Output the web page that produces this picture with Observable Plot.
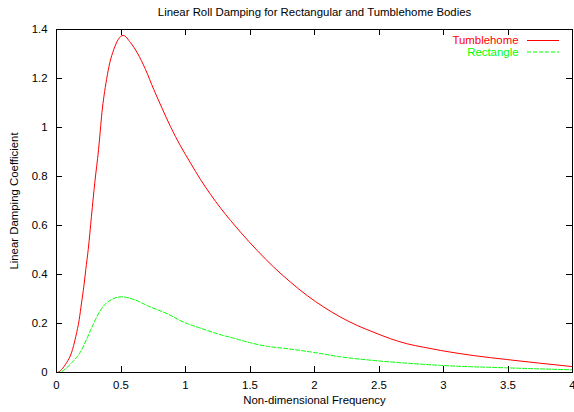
<!DOCTYPE html>
<html><head><meta charset="utf-8">
<script src="https://cdn.jsdelivr.net/npm/d3@7"></script>
<script src="https://cdn.jsdelivr.net/npm/@observablehq/plot@0.6"></script>
<style>html,body{margin:0;padding:0;background:#fff}svg{display:block}</style>
</head><body><div id="chart"></div>
<script>
const tumbleFreq = [0, 0.013, 0.039, 0.078, 0.116, 0.150, 0.176, 0.194, 0.212, 0.227, 0.246, 0.271, 0.297, 0.326, 0.340, 0.352, 0.368, 0.388, 0.413, 0.444, 0.478, 0.517, 0.574, 0.626, 0.690, 0.754, 0.819, 0.884, 0.961, 1.039, 1.116, 1.194, 1.271, 1.350, 1.426, 1.556, 1.684, 1.814, 1.943, 2.072, 2.202, 2.331, 2.460, 2.589, 2.719, 2.847, 2.977, 3.235, 3.490, 4.0];
const tumbleDamping = [0, 0.001, 0.012, 0.040, 0.080, 0.148, 0.216, 0.284, 0.352, 0.420, 0.502, 0.638, 0.776, 0.910, 0.990, 1.060, 1.128, 1.196, 1.264, 1.318, 1.359, 1.376, 1.346, 1.305, 1.237, 1.155, 1.078, 1.003, 0.925, 0.855, 0.788, 0.727, 0.672, 0.620, 0.573, 0.498, 0.430, 0.369, 0.314, 0.267, 0.226, 0.192, 0.164, 0.138, 0.117, 0.103, 0.090, 0.069, 0.053, 0.024];
const rectFreq = [0, 0.026, 0.078, 0.129, 0.181, 0.233, 0.284, 0.336, 0.388, 0.440, 0.504, 0.599, 0.729, 0.858, 0.987, 1.116, 1.246, 1.374, 1.504, 1.633, 1.762, 1.891, 1.995, 2.202, 2.460, 2.719, 2.977, 3.490, 4.0];
const rectDamping = [0, 0.001, 0.019, 0.046, 0.080, 0.135, 0.196, 0.250, 0.284, 0.301, 0.309, 0.298, 0.267, 0.240, 0.205, 0.181, 0.158, 0.140, 0.121, 0.107, 0.099, 0.090, 0.082, 0.064, 0.049, 0.038, 0.029, 0.019, 0.011];
const xTicks = [0, 0.5, 1, 1.5, 2, 2.5, 3, 3.5, 4];
const yTicks = [0, 0.2, 0.4, 0.6, 0.8, 1, 1.2, 1.4];
const seriesNames = ["Tumblehome", "Rectangle"];
const seriesColors = ["#ff0000", "#00ff00"];
const seriesDash = [null, "4,2"];
const titleText = "Linear Roll Damping for Rectangular and Tumblehome Bodies";
const xLabel = "Non-dimensional Frequency";
const yLabel = "Linear Damping Coefficient";

const tumble = tumbleFreq.map((x, i) => ({x, y: tumbleDamping[i]}));
const rect = rectFreq.map((x, i) => ({x, y: rectDamping[i]}));

const W = 574, H = 412, mL = 56, mR = 2, mT = 29, mB = 40;
const tk = 6;
const legendDy = [11, 22.5];

// inward ticks on all four sides (gnuplot style mirror ticks)
function inwardTicks(index, scales, values, dim) {
  const g = d3.create("svg:g").attr("stroke", "#000").attr("stroke-width", 1);
  const top = dim.marginTop, bottom = dim.height - dim.marginBottom;
  const left = dim.marginLeft, right = dim.width - dim.marginRight;
  for (const v of xTicks) {
    const x = Math.round(scales.x(v)) + 0.5;
    g.append("line").attr("x1", x).attr("x2", x).attr("y1", bottom).attr("y2", bottom - tk);
    g.append("line").attr("x1", x).attr("x2", x).attr("y1", top).attr("y2", top + tk);
  }
  for (const v of yTicks) {
    const y = Math.round(scales.y(v)) + 0.5;
    g.append("line").attr("x1", left).attr("x2", left + tk).attr("y1", y).attr("y2", y);
    g.append("line").attr("x1", right).attr("x2", right - tk).attr("y1", y).attr("y2", y);
  }
  return g.node();
}

function legendSamples(index, scales, values, dim) {
  const g = d3.create("svg:g");
  const right = dim.width - dim.marginRight;
  seriesNames.forEach((n, i) => {
    const y = dim.marginTop + legendDy[i] + 0.5;
    g.append("line")
      .attr("x1", right - 45).attr("x2", right - 13)
      .attr("y1", y).attr("y2", y)
      .attr("stroke", seriesColors[i])
      .attr("stroke-width", 1)
      .attr("stroke-dasharray", seriesDash[i]);
  });
  return g.node();
}

const chart = Plot.plot({
  width: W, height: H,
  marginLeft: mL, marginRight: mR, marginTop: mT, marginBottom: mB,
  x: {domain: [0, 4]},
  y: {domain: [0, 1.4]},
  style: {fontFamily: "'Liberation Sans', Arial, Helvetica, sans-serif", fontSize: "11.4px", color: "#000", background: "#fff"},
  marks: [
    Plot.axisX({ticks: xTicks, tickSize: 0, tickPadding: 8, label: null, tickFormat: d => String(d)}),
    Plot.axisY({ticks: yTicks, tickSize: 0, tickPadding: 9, label: null, tickFormat: d => String(d)}),
    Plot.line(tumble, {x: "x", y: "y", stroke: seriesColors[0], strokeWidth: 1, curve: "monotone-x"}),
    Plot.line(rect, {x: "x", y: "y", stroke: seriesColors[1], strokeWidth: 1, strokeDasharray: seriesDash[1], curve: "monotone-x"}),
    Plot.frame({stroke: "#000", strokeWidth: 1}),
    inwardTicks,
    Plot.text([titleText], {text: d => d, frameAnchor: "top", lineAnchor: "middle", textAnchor: "middle", dy: -17, fill: "#000"}),
    Plot.text([xLabel], {text: d => d, frameAnchor: "bottom", lineAnchor: "middle", textAnchor: "middle", dy: 28, fill: "#000"}),
    Plot.text([yLabel], {text: d => d, frameAnchor: "left", lineAnchor: "middle", textAnchor: "middle", dx: -42, rotate: -90, fill: "#000"}),
    Plot.text([seriesNames[0]], {text: d => d, frameAnchor: "top-right", lineAnchor: "middle", textAnchor: "end", dx: -54, dy: legendDy[0], fill: seriesColors[0]}),
    Plot.text([seriesNames[1]], {text: d => d, frameAnchor: "top-right", lineAnchor: "middle", textAnchor: "end", dx: -54, dy: legendDy[1], fill: seriesColors[1]}),
    legendSamples
  ]
});
document.getElementById("chart").appendChild(chart);
</script>
</body></html>
